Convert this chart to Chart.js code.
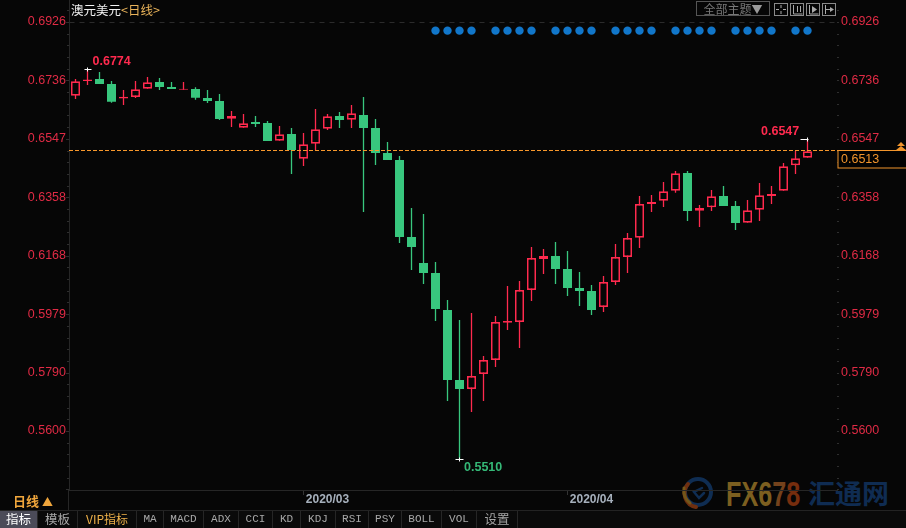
<!DOCTYPE html>
<html><head><meta charset="utf-8">
<script src="https://cdn.jsdelivr.net/npm/chart.js@4"></script>
<style>
html,body{margin:0;padding:0;background:#060606;width:906px;height:528px;overflow:hidden}
#wrap{position:relative;width:906px;height:528px;overflow:hidden;font-family:"Noto Sans CJK SC","Noto Sans",sans-serif}
#wm{position:absolute;left:0;top:0;z-index:0}
.wmt{position:absolute;white-space:nowrap;font-weight:700;line-height:1}
#c{position:absolute;left:0;top:0;z-index:1}
.ui{position:absolute;z-index:2;white-space:nowrap}
#tabs{position:absolute;left:0;top:510px;height:18px;width:906px;z-index:3;border-top:1px solid #232323;box-sizing:border-box;background:#0a0a0a}
.tab{position:absolute;top:0;height:17px;line-height:16px;text-align:center;font-size:11px;color:#a8a8a8;border-right:1px solid #262626;box-sizing:border-box;font-family:"Liberation Mono","DejaVu Sans Mono",monospace}
.tab.cjk{font-family:"Noto Sans CJK SC";font-size:12.5px}
.icon{position:absolute;top:3px;width:12px;height:11px;border:1px solid #8a8a8a;box-sizing:content-box;z-index:2}
</style></head>
<body><div id="wrap">
<div id="wm">
 <svg width="906" height="528" style="position:absolute;left:0;top:0">
  <g fill="none" stroke-linecap="round" opacity=".8">
   <circle cx="698" cy="492" r="13" stroke="#123765" stroke-width="4"/>
   <path d="M 688 484 A 14 14 0 0 0 696 507" stroke="#8a3a12" stroke-width="4"/>
   <path d="M 684 488 A 16 16 0 0 0 690 503" stroke="#8f6a1f" stroke-width="3"/>
   <path d="M 702 488 L 694 492 L 699 498 L 704 493" stroke="#123765" stroke-width="2.5"/>
  </g>
 </svg>
 <div class="wmt" style="left:726px;top:474px;font:700 35px 'Liberation Sans';transform-origin:0 0;transform:scaleX(.72)"><span style="color:#7c5f20">FX6</span><span style="color:#74421c">7</span><span style="color:#762d0e">8</span></div>
 <div class="wmt" style="left:808px;top:473px;font:700 27px 'Noto Sans CJK SC';color:#0f2c52">汇通网</div>
</div>
<canvas id="c" width="906" height="528"></canvas>

<div class="ui" style="left:71px;top:1px;font-size:12.5px;line-height:18px;color:#f2f2f2">澳元美元<span style="color:#e9b35a">&lt;日线&gt;</span></div>
<div class="ui" style="left:696px;top:1px;width:74px;height:15px;border:1px solid #555;box-sizing:border-box;color:#777;font-size:12px;line-height:13px;text-align:center">全部主题<span style="color:#999;font-size:11px">▼</span></div>
<div class="icon" style="left:774px"><svg width="12" height="11" style="display:block"><path d="M6 1v3M6 7v3M1 5.5h3M8 5.5h3" stroke="#aaa" fill="none"/></svg></div>
<div class="icon" style="left:790px"><svg width="12" height="11" style="display:block"><path d="M2.5 1v9h9M6.5 2v6M9.5 2v6" stroke="#aaa" fill="none"/></svg></div>
<div class="icon" style="left:806px"><svg width="12" height="11" style="display:block"><path d="M2.5 1v9h9" stroke="#aaa" fill="none"/><path d="M5 2l5 3.5-5 3.5z" fill="#aaa"/></svg></div>
<div class="icon" style="left:822px"><svg width="12" height="11" style="display:block"><path d="M2.5 1v9M2.5 5.5h5" stroke="#aaa" fill="none"/><path d="M7 3l4 2.5-4 2.5z" fill="#aaa"/></svg></div>
<div class="ui" style="left:13px;top:492px;font-size:13px;line-height:18px;font-weight:700;color:#f0a63c">日线 <span style="font-size:11px">▲</span></div>
<div class="ui" style="left:68px;top:490px;width:1px;height:20px;background:#262626"></div>
<div id="tabs"></div>
</div>
<script>
const categories=["2020/02/04","2020/02/05","2020/02/06","2020/02/07","2020/02/10","2020/02/11","2020/02/12","2020/02/13","2020/02/14","2020/02/17","2020/02/18","2020/02/19","2020/02/20","2020/02/21","2020/02/24","2020/02/25","2020/02/26","2020/02/27","2020/02/28","2020/03/02","2020/03/03","2020/03/04","2020/03/05","2020/03/06","2020/03/09","2020/03/10","2020/03/11","2020/03/12","2020/03/13","2020/03/16","2020/03/17","2020/03/18","2020/03/19","2020/03/20","2020/03/23","2020/03/24","2020/03/25","2020/03/26","2020/03/27","2020/03/30","2020/03/31","2020/04/01","2020/04/02","2020/04/03","2020/04/06","2020/04/07","2020/04/08","2020/04/09","2020/04/10","2020/04/13","2020/04/14","2020/04/15","2020/04/16","2020/04/17","2020/04/20","2020/04/21","2020/04/22","2020/04/23","2020/04/24","2020/04/27","2020/04/28","2020/04/29","",""];
const opens=[.66870,.67347,.67412,.67250,.66780,.66828,.67097,.67315,.67153,.67062,.67088,.66796,.66699,.66125,.65833,.66018,.65985,.65412,.65629,.64828,.65314,.65801,.66212,.66092,.66245,.65823,.65013,.64786,.62290,.61447,.61122,.59923,.57653,.57362,.57848,.58302,.59511,.59534,.60571,.61576,.61674,.61252,.60636,.60539,.60020,.60831,.61641,.62267,.63359,.63466,.63790,.64364,.63142,.63252,.63619,.63295,.62753,.63175,.63619,.63790,.64614,.64860];
const closes=[.67337,.67396,.67250,.66676,.66835,.67078,.67305,.67153,.67088,.67094,.66806,.66699,.66115,.66212,.65976,.65953,.65402,.65619,.65110,.65295,.65781,.66203,.66083,.66300,.65823,.65013,.64786,.62290,.61965,.61122,.59955,.57653,.57362,.57783,.58302,.59534,.59566,.60571,.61609,.61674,.61252,.60636,.60539,.59923,.60831,.61641,.62257,.63359,.63424,.63771,.64355,.63132,.63230,.63609,.63295,.62743,.63155,.63641,.63684,.64582,.64841,.65068];
const highs=[.67412,.67740,.67639,.67347,.67055,.67347,.67477,.67444,.67315,.67315,.67143,.67055,.66926,.66374,.66277,.66212,.66050,.65888,.65823,.65661,.66439,.66277,.66342,.66569,.66828,.66115,.65369,.64916,.63230,.63035,.61479,.60247,.59599,.59826,.58432,.59728,.60701,.60863,.61965,.61900,.62127,.61836,.61155,.60733,.61025,.62063,.62419,.63619,.63651,.64073,.64429,.64429,.63327,.63813,.63943,.63457,.63489,.64040,.63943,.64689,.65078,.65470];
const lows=[.66763,.67217,.67250,.66643,.66569,.66796,.67097,.67055,.67088,.67062,.66741,.66634,.66083,.65856,.65833,.65856,.65402,.65412,.64332,.64591,.65100,.65758,.65823,.65823,.63100,.64624,.64786,.62095,.61220,.60766,.59566,.56973,.55100,.56616,.56973,.58075,.59274,.58691,.60215,.61090,.60766,.60377,.60053,.59761,.59858,.60733,.61122,.61933,.63100,.63262,.63726,.62808,.62614,.63132,.63295,.62516,.62753,.62808,.63359,.63790,.64332,.64860];
const yTicks=[0.6926,0.6736,0.6547,0.6358,0.6168,0.5979,0.5790,0.5600];
const monthTicks=["2020/03/02","2020/04/01"];
const signalDays=[30,31,32,33,35,36,37,38,40,41,42,43,45,46,47,48,50,51,52,53,55,56,57,58,60,61];
const signalLevel=0.6898;
const priceLineLevel=0.6510;
const lastPriceText="0.6513";
const yMax=0.69973, yMin=0.54087;
const peakLeft={index:1,value:0.6774,text:"0.6774"};
const peakRight={index:61,value:0.6547,text:"0.6547"};
const trough={index:32,value:0.5510,text:"0.5510"};
const tabs=[["指标",0,38],["模板",38,78],["VIP指标",78,137],["MA",137,164],["MACD",164,204],["ADX",204,239],["CCI",239,273],["KD",273,301],["KDJ",301,336],["RSI",336,369],["PSY",369,402],["BOLL",402,442],["VOL",442,477],["设置",477,518]];

const RED="#ff2a4e",GREEN="#38c77e",BG="#060606",AXIS="#262626",LBL="#e02b45";
const tb=document.getElementById('tabs');
tabs.forEach(([t,a,b],i)=>{const d=document.createElement('div');d.className='tab'+(/[\u4e00-\u9fff]/.test(t)?' cjk':'');d.textContent=t;d.style.left=a+'px';d.style.width=(b-a)+'px';
 if(i===0){d.style.background='#4b4b58';d.style.color='#fff';}
 if(i===2){d.style.color='#f0b24a';d.style.fontFamily='"Noto Sans CJK SC"';d.style.fontSize='12px';}
 tb.appendChild(d);});

const isUp=i=>closes[i]>=opens[i];
const series=closes.map((_,i)=>i);
const extras={id:'extras',
 beforeDatasetsDraw(c){const g=c.ctx,y=c.scales.y,L=c.chartArea.left,R=c.chartArea.right;
  g.save();
  g.strokeStyle='#2b2b2b';g.lineWidth=1;g.setLineDash([5,5]);
  const t=Math.round(y.getPixelForValue(yTicks[0]))+.5;g.beginPath();g.moveTo(L,t);g.lineTo(R,t);g.stroke();g.setLineDash([]);
  const step=(yTicks[0]-yTicks[yTicks.length-1])/(yTicks.length-1)/5;
  g.strokeStyle='#2e2e2e';
  for(let k=-1;k<=45;k++){const v=yTicks[0]-k*step;if(v<yMin)break;const p=Math.round(y.getPixelForValue(v))+.5;const major=k%5===0&&k>=0;
   g.beginPath();g.moveTo(69,p);g.lineTo(major?66:67,p);g.moveTo(837,p);g.lineTo(839,p);g.stroke();}
  g.restore();},
 afterDatasetsDraw(c){const g=c.ctx,y=c.scales.y,x=c.scales.x,L=c.chartArea.left,R=c.chartArea.right;
  g.save();
  const ly=Math.round(y.getPixelForValue(priceLineLevel))+.5;
  g.strokeStyle='#f7982c';g.lineWidth=1;g.setLineDash([4,2]);g.beginPath();g.moveTo(69,ly);g.lineTo(838,ly);g.stroke();g.setLineDash([]);
  g.fillStyle='#020202';g.fillRect(838,ly,68,18);
  g.strokeStyle='#f2952c';g.strokeRect(838,ly,69,17.5);
  g.fillStyle='#f2952c';g.font='12.5px "Liberation Sans"';g.textAlign='left';g.textBaseline='middle';g.fillText(lastPriceText,841,ly+9);
  g.beginPath();g.moveTo(901,142);g.lineTo(905,146);g.lineTo(897,146);g.closePath();g.fill();
  g.beginPath();g.moveTo(901,146);g.lineTo(906,150);g.lineTo(896,150);g.closePath();g.fill();
  const mark=(m,dx0,dx1,tx,ty,col)=>{const px=x.getPixelForValue(m.index),py=Math.round(y.getPixelForValue(m.value))+.5;
   g.strokeStyle='#fff';g.beginPath();g.moveTo(px+dx0,py);g.lineTo(px+dx1,py);g.moveTo(px,py-2);g.lineTo(px,py+2);g.stroke();
   g.fillStyle=col;g.font='bold 12.5px "Liberation Sans"';g.textAlign='left';g.textBaseline='middle';g.fillText(m.text,tx,ty);};
  mark(peakLeft,-3,4,92.5,62,RED);
  mark(peakRight,-7,1,761,131.5,RED);
  mark(trough,-4,4,464,467.5,"#35b877");
  g.restore();}
};
new Chart(document.getElementById('c'),{
 data:{labels:categories,datasets:[
  {type:'line',label:'signal',data:categories.map((_,i)=>signalDays.includes(i)?signalLevel:null),showLine:false,pointRadius:4.2,pointBackgroundColor:'#1176c9',pointBorderWidth:0,order:0},
  {type:'bar',label:'body',data:series.map(i=>[opens[i],closes[i]]),barThickness:9,grouped:false,inflateAmount:0,borderSkipped:false,
   backgroundColor:series.map(i=>isUp(i)?BG:GREEN),borderColor:series.map(i=>isUp(i)?RED:GREEN),borderWidth:series.map(i=>isUp(i)?1.7:0),order:1},
  {type:'bar',label:'wick',data:series.map(i=>[lows[i],highs[i]]),barThickness:1.3,grouped:false,inflateAmount:0,borderSkipped:false,borderWidth:0,
   backgroundColor:series.map(i=>isUp(i)?RED:GREEN),order:2}
 ]},
 options:{responsive:false,animation:false,events:[],
  layout:{padding:0,autoPadding:false},
  plugins:{legend:{display:false},tooltip:{enabled:false}},
  scales:{
   x:{type:'category',offset:true,position:'bottom',
    afterFit(s){s.height=38;s.paddingLeft=0;s.paddingRight=0;},
    afterBuildTicks(s){s.ticks=monthTicks.map(m=>({value:categories.indexOf(m)}));},
    grid:{drawOnChartArea:false,drawTicks:true,tickLength:5,color:'#333',offset:false},border:{color:AXIS},
    ticks:{autoSkip:false,maxRotation:0,labelOffset:24,padding:-3,color:'#a6b0bc',font:{family:'"Liberation Sans"',size:12,weight:'bold'},
     callback(v){return this.getLabelForValue(v).slice(0,7);}}},
   y:{type:'linear',position:'left',min:yMin,max:yMax,
    afterFit(s){s.width=69.5;s.paddingTop=0;s.paddingBottom=0;},
    afterBuildTicks(s){s.ticks=yTicks.map(v=>({value:v}));},
    grid:{drawOnChartArea:false,drawTicks:false},border:{color:AXIS},
    ticks:{padding:3.5,color:LBL,font:{family:'"Liberation Sans"',size:12.5},callback:v=>v.toFixed(4)}},
   y2:{type:'linear',position:'right',min:yMin,max:yMax,
    afterFit(s){s.width=68.5;s.paddingTop=0;s.paddingBottom=0;},
    afterBuildTicks(s){s.ticks=yTicks.map(v=>({value:v}));},
    grid:{drawOnChartArea:false,drawTicks:false},border:{display:false},
    ticks:{padding:3.5,color:LBL,font:{family:'"Liberation Sans"',size:12.5},callback:v=>v.toFixed(4)}}
  }},
 plugins:[extras]
});
</script>
</body></html>
